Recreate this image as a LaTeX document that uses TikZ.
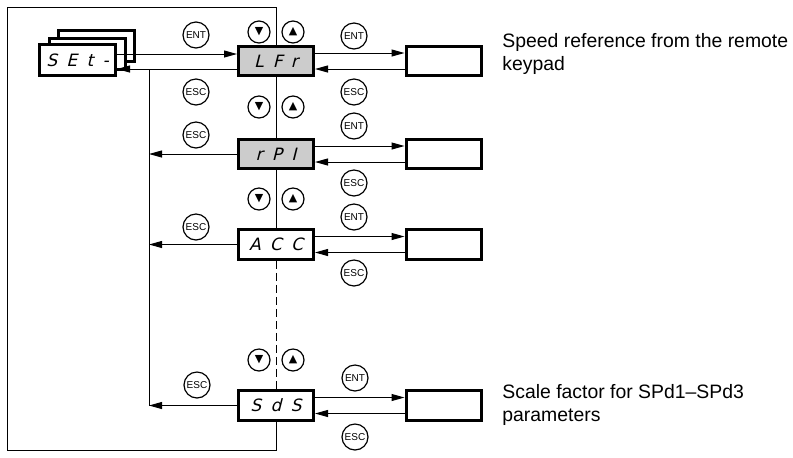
\documentclass[tikz,border=0pt]{standalone}
\usepackage{fontspec}
\setmainfont{Liberation Sans}
\newfontfamily\lcdfont[FakeSlant=0.25,LetterSpace=55]{DejaVu Sans}
\newfontfamily\symfont{DejaVu Sans}
\usetikzlibrary{calc,arrows.meta}
\tikzset{
  conn/.style={line width=0.5pt},
  arr/.style={conn,-{Triangle[length=6.5pt,width=3.5pt]}},
  dispbox/.style={draw, line width=1.5pt, fill=white, minimum width=37.5pt,
    minimum height=14.75pt, inner sep=0pt, font=\lcdfont\fontsize{8.5}{10}\selectfont},
  selbox/.style={dispbox, fill=black!20},
  keybtn/.style={circle, draw, line width=0.6pt, minimum size=13pt, inner sep=0pt,
    font=\fontsize{5}{6}\selectfont},
  navbtn/.style={circle, draw, line width=0.6pt, minimum size=11pt, inner sep=0pt,
    font=\symfont\fontsize{5.5}{6}\selectfont},
  note/.style={anchor=north west, align=left, inner sep=0pt,
    font=\fontsize{9.7}{11.5}\selectfont},
  }

\begin{document}
\begin{tikzpicture}[x=0.5pt,y=-0.5pt]
  \useasboundingbox (0,0) rectangle (793,457);
  \coordinate (frametl) at (7,7);
  \coordinate (framebl) at (7,450);
  \coordinate (escbus)  at (149,0);

  % menu stack
  \node[dispbox,minimum width=38pt,minimum height=15.5pt] (setc) at (96.5,46) {};
  \node[dispbox,minimum width=38pt,minimum height=15.5pt] (setb) at (87,53.5) {};
  \node[dispbox,minimum width=38pt,minimum height=15.5pt] (set)  at (77.5,60) {SEt-};

  % parameters
  \node[selbox]  (lfr) at (276,61)    {LFr};
  \node[selbox]  (rpi) at (276,154)   {rPI};
  \node[dispbox] (acc) at (276,244.5) {ACC};
  \node[dispbox] (sds) at (276,405.5) {SdS};

  % value boxes
  \node[dispbox] (lfrv) at (443.5,61)    {};
  \node[dispbox] (rpiv) at (443.5,154)   {};
  \node[dispbox] (accv) at (443.5,244.5) {};
  \node[dispbox] (sdsv) at (443.5,405.5) {};

  % frame and spine
  \draw[conn] (lfr.north) -- (lfr.north |- frametl) -- (frametl) -- (framebl)
    -- (sds.south |- framebl) -- (sds.south);
  \draw[conn] (lfr.south) -- (rpi.north);
  \draw[conn] (rpi.south) -- (acc.north);
  \draw[conn,dash pattern=on 4pt off 2pt] (acc.south) -- (sds.north);

  % menu <-> first parameter
  \draw[arr] ([yshift=3.5pt]lfr.west -| set.east) -- ([yshift=3.5pt]lfr.west);
  \draw[arr] ([yshift=-4pt]lfr.west) -- ([yshift=-4pt]lfr.west -| set.east);

  % ESC return line
  \draw[conn] ([yshift=-4pt]lfr.west -| escbus) -- (sds.west -| escbus);
  \draw[arr] (rpi.west) -- (rpi.west -| escbus);
  \draw[arr] (acc.west) -- (acc.west -| escbus);
  \draw[arr] (sds.west) -- (sds.west -| escbus);

  % parameter <-> value
  \draw[arr] ([yshift=4pt]lfr.east) -- ([yshift=4pt]lfrv.west);
  \draw[arr] ([yshift=-4pt]lfrv.west) -- ([yshift=-4pt]lfr.east);
  \draw[arr] ([yshift=4pt]rpi.east) -- ([yshift=4pt]rpiv.west);
  \draw[arr] ([yshift=-4pt]rpiv.west) -- ([yshift=-4pt]rpi.east);
  \draw[arr] ([yshift=4pt]acc.east) -- ([yshift=4pt]accv.west);
  \draw[arr] ([yshift=-4pt]accv.west) -- ([yshift=-4pt]acc.east);
  \draw[arr] ([yshift=4pt]sds.east) -- ([yshift=4pt]sdsv.west);
  \draw[arr] ([yshift=-4pt]sdsv.west) -- ([yshift=-4pt]sds.east);

  % keys, left column
  \node[keybtn] (ent0) at (196,35)  {ENT};
  \node[keybtn] (esc0) at (196,92)  {ESC};
  \node[keybtn] (esc1) at (196,135) {ESC};
  \node[keybtn] (esc2) at (196,227) {ESC};
  \node[keybtn] (esc3) at (197,385) {ESC};

  % keys, right column
  \node[keybtn] (ent1) at (354,36)  {ENT};
  \node[keybtn] (esc4) at (354,92)  {ESC};
  \node[keybtn] (ent2) at (354,126) {ENT};
  \node[keybtn] (esc5) at (354,183) {ESC};
  \node[keybtn] (ent3) at (354,217) {ENT};
  \node[keybtn] (esc6) at (354,273) {ESC};
  \node[keybtn] (ent4) at (355,378) {ENT};
  \node[keybtn] (esc7) at (355,437) {ESC};

  % up/down keys
  \node[navbtn] (dn1) at (259,32)  {▼};
  \node[navbtn] (up1) at (293,32)  {▲};
  \node[navbtn] (dn2) at (259,107) {▼};
  \node[navbtn] (up2) at (293,107) {▲};
  \node[navbtn] (dn3) at (259,199) {▼};
  \node[navbtn] (up3) at (293,199) {▲};
  \node[navbtn] (dn4) at (259,360) {▼};
  \node[navbtn] (up4) at (293,360) {▲};

  % notes
  \node[note] (lfrnote) at (502,33)  {Speed reference from the remote\\keypad};
  \node[note] (sdsnote) at (502,384) {Scale factor for SPd1--SPd3\\parameters};
\end{tikzpicture}
\end{document}
